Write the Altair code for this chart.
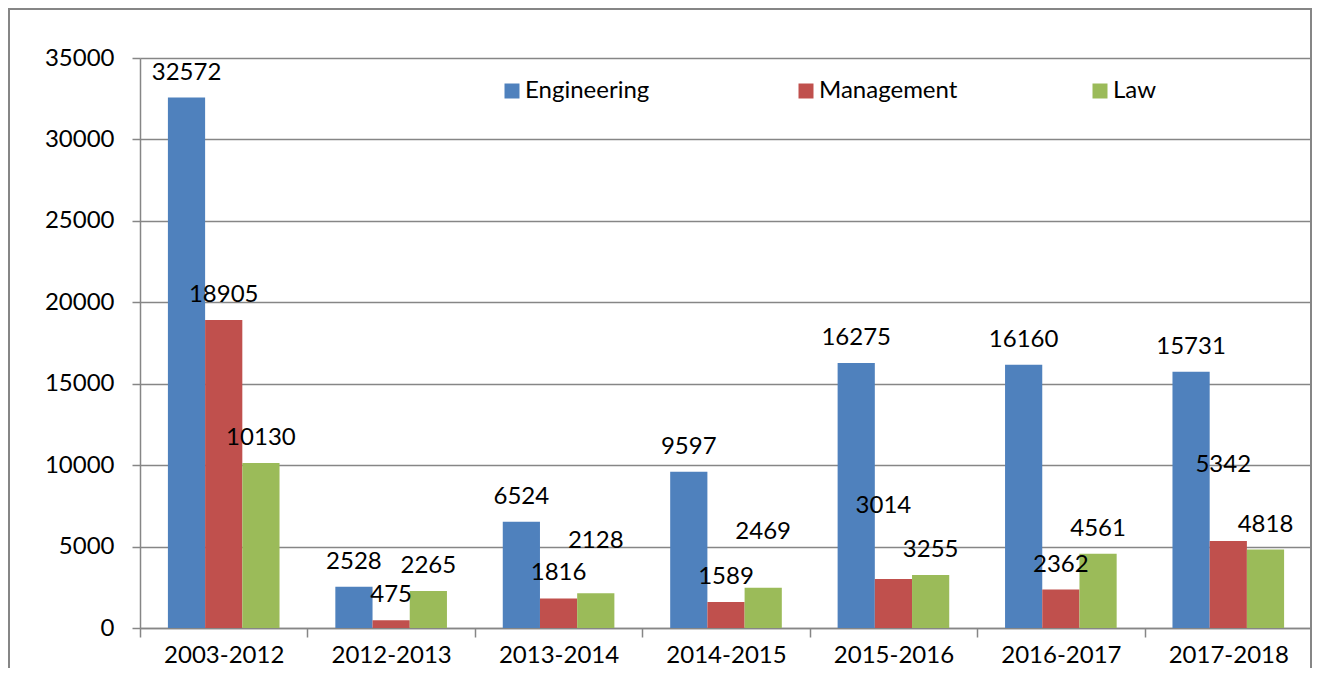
import altair as alt
import pandas as pd

# ---- data ----
periods = ["2003-2012", "2012-2013", "2013-2014", "2014-2015", "2015-2016", "2016-2017", "2017-2018"]
engineering = [32572, 2528, 6524, 9597, 16275, 16160, 15731]
management = [18905, 475, 1816, 1589, 3014, 2362, 5342]
law = [10130, 2265, 2128, 2469, 3255, 4561, 4818]
series_names = ["Engineering", "Management", "Law"]
y_ticks = [0, 5000, 10000, 15000, 20000, 25000, 30000, 35000]

# ---- styling ----
colors = ["#4F81BD", "#C0504D", "#9BBB59"]
FONT = "Lato"
FS = 24
GRAY = "#868686"
W, H = 1172, 570
PAD_L, PAD_T = 132, 50

rows = []
for s, vals in zip(series_names, [engineering, management, law]):
    for p, v in zip(periods, vals):
        rows.append({"period": p, "series": s, "value": v, "key": p + "|" + s})
df = pd.DataFrame(rows)

# labels that the original moved away from their bars (extra dy, dx in px)
label_nudges = {
    "2013-2014|Law": (-27, 0),
    "2014-2015|Law": (-31, 0),
    "2015-2016|Management": (-48, -10),
    "2017-2018|Management": (-51, -5),
}

x_enc = alt.X(
    "period:N", sort=periods, title=None,
    scale=alt.Scale(paddingInner=0, paddingOuter=0),
    axis=alt.Axis(tickBand="extent", labelAngle=0, labelFont=FONT, labelFontSize=FS,
                  labelColor="black", labelPadding=6, tickSize=9, tickColor=GRAY,
                  tickWidth=1.5, domainColor=GRAY, domainWidth=1.5, grid=False),
)
xoff_enc = alt.XOffset("series:N", sort=series_names,
                       scale=alt.Scale(paddingInner=0, paddingOuter=0.75))
y_enc = alt.Y(
    "value:Q", title=None,
    scale=alt.Scale(domain=[0, 35000], nice=False),
    axis=alt.Axis(values=y_ticks, format="d", labelFont=FONT, labelFontSize=FS,
                  labelColor="black", labelPadding=18, tickSize=8, tickColor=GRAY,
                  tickWidth=1.5, domainColor=GRAY, domainWidth=1.5, grid=True,
                  gridColor=GRAY, gridWidth=1.5),
)

bars = alt.Chart(df).mark_bar().encode(
    x=x_enc, xOffset=xoff_enc, y=y_enc,
    color=alt.Color(
        "series:N", sort=series_names,
        scale=alt.Scale(domain=series_names, range=colors),
        legend=alt.Legend(
            orient="none", legendX=360, legendY=21, direction="horizontal", title=None,
            columns=3, gridAlign="all", columnPadding=130, symbolType="square",
            symbolSize=225, symbolStrokeWidth=0, labelFont=FONT, labelFontSize=FS,
            labelColor="black", labelOffset=1, padding=0,
        ),
    ),
)

nudged = list(label_nudges.keys())
keys_expr = "indexof([" + ",".join("'" + k + "'" for k in nudged) + "], datum.key) < 0"

text_base = alt.Chart(df).encode(
    x=alt.X("period:N", sort=periods),
    xOffset=alt.XOffset("series:N", sort=series_names),
    y=alt.Y("value:Q"),
    text=alt.Text("value:Q", format="d"),
)
labels = [
    text_base.transform_filter(keys_expr).mark_text(
        dy=-25, font=FONT, fontSize=FS, color="black", baseline="middle")
]
for k, (ddy, ddx) in label_nudges.items():
    labels.append(
        text_base.transform_filter(f"datum.key == '{k}'").mark_text(
            dy=-25 + ddy, dx=ddx, font=FONT, fontSize=FS, color="black", baseline="middle")
    )

frame = alt.Chart(df).mark_rect(filled=False, stroke=GRAY, strokeWidth=2).encode(
    x=alt.value(-PAD_L + 1), x2=alt.value(W - 1), y=alt.value(-PAD_T + 1), y2=alt.value(H + 200)
)

chart = alt.layer(bars, *labels, frame).properties(
    width=W, height=H,
    autosize=alt.AutoSizeParams(type="none"),
    padding={"left": PAD_L, "top": PAD_T, "right": 0, "bottom": 40},
    background="white",
).configure_view(stroke=None)

chart.save("out.html", embed_options={"renderer": "svg", "actions": False})
